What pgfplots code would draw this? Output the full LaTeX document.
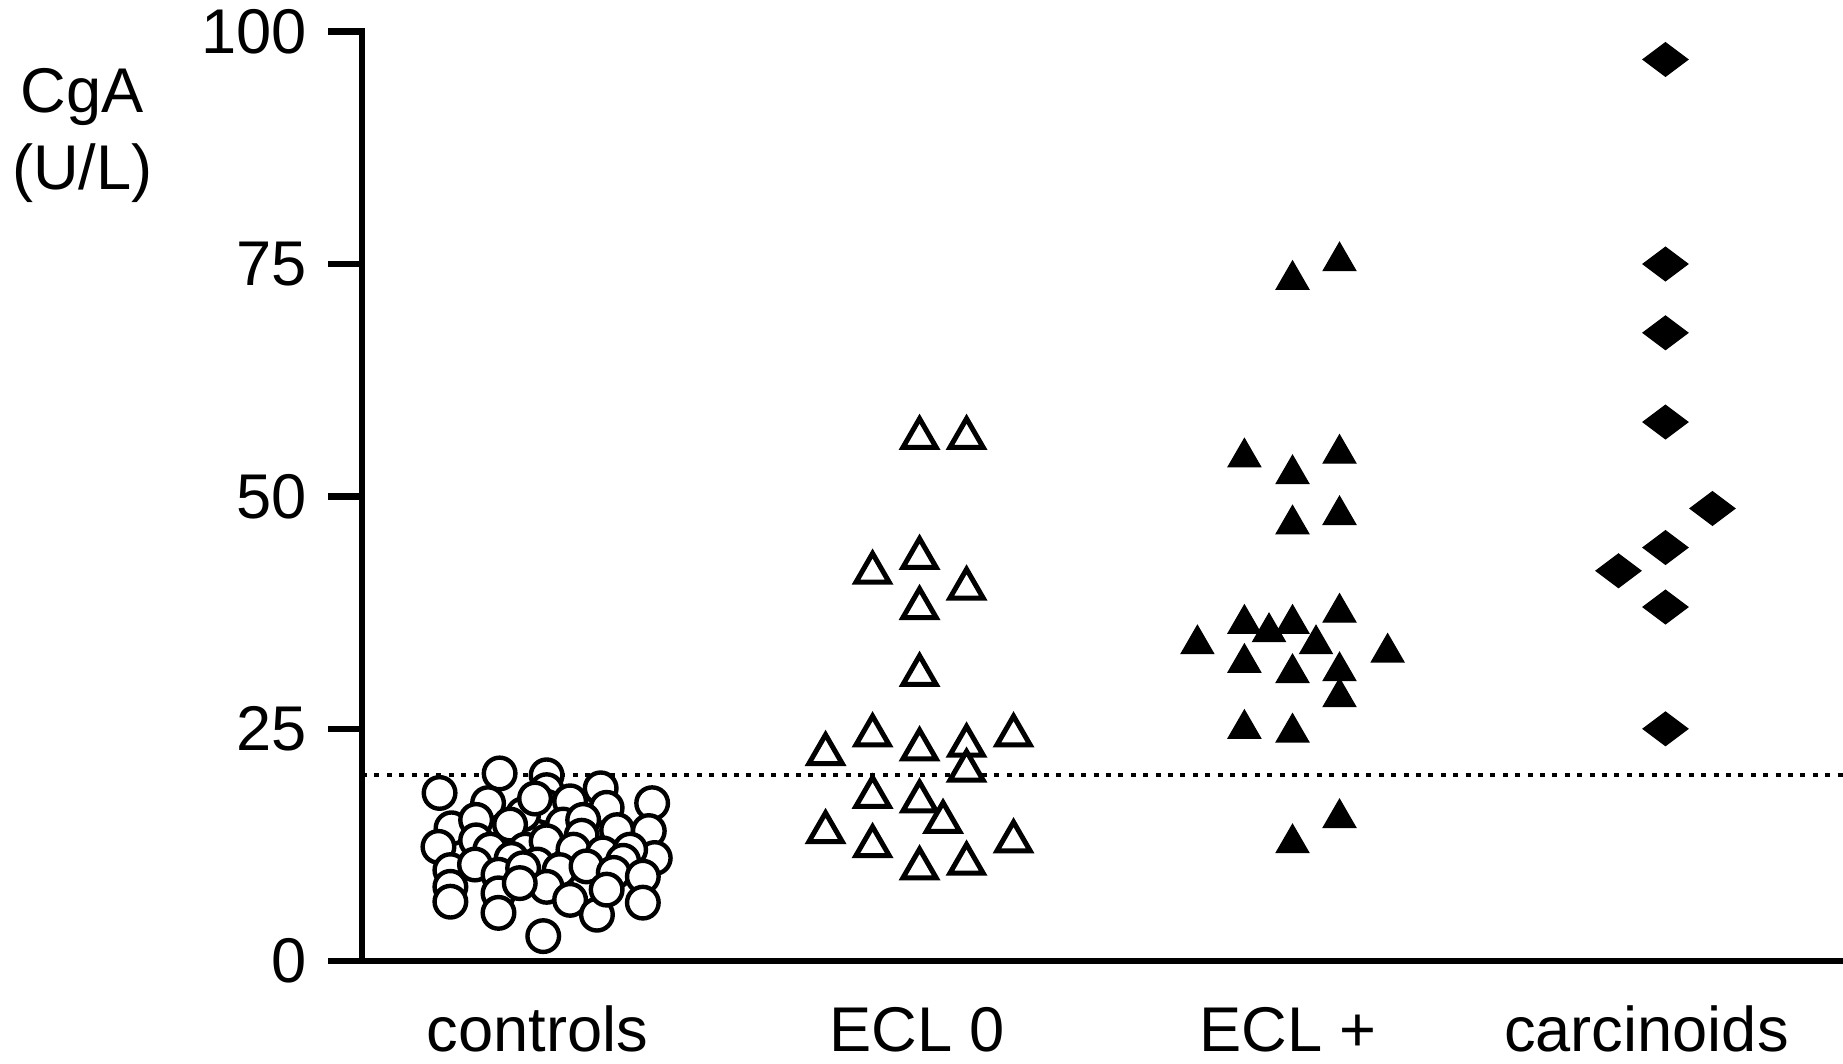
\documentclass[border=0pt]{standalone}
\usepackage{fontspec}
\setmainfont{Liberation Sans}
\usepackage{pgfplots}
\pgfplotsset{compat=1.18}
\pgfplotstableread{
x y
0.874 20.2
1.000 20.0
0.713 18.1
1.145 18.6
1.283 17.0
0.843 17.0
1.000 18.4
1.000 16.6
1.161 16.5
0.937 15.8
0.969 17.5
1.063 17.2
0.745 14.3
0.811 15.2
0.902 14.7
1.044 14.7
1.098 15.2
1.189 14.1
1.274 14.0
0.811 13.0
1.094 13.5
0.710 12.3
0.849 12.0
0.943 12.0
1.000 12.9
1.072 12.0
1.151 11.6
1.290 11.1
1.224 12.0
0.906 11.0
1.205 10.8
0.742 9.8
0.808 10.4
0.871 9.3
0.975 10.4
0.937 10.0
1.035 9.8
1.107 10.2
1.180 9.5
1.258 9.1
0.742 8.0
0.742 6.4
0.871 7.3
0.871 5.2
1.000 8.0
1.063 6.6
1.135 5.0
1.258 6.3
0.928 8.4
1.161 7.7
0.991 2.7
}\controls
\pgfplotstableread{
x y
2.000 56.3
2.126 56.3
1.874 41.8
2.000 43.4
2.126 40.1
2.000 38.0
2.000 30.8
1.748 22.3
1.874 24.3
2.000 22.8
2.126 23.2
2.252 24.3
2.126 20.5
1.874 17.7
2.000 17.2
2.063 15.0
1.748 13.9
1.874 12.4
2.252 12.9
2.000 10.0
2.126 10.5
}\eclzero
\pgfplotstableread{
x y
3.000 73.3
3.126 75.3
2.871 54.2
3.000 52.4
3.126 54.6
3.000 47.0
3.126 48.0
2.745 34.1
2.871 36.3
2.937 35.4
3.000 36.3
3.063 34.1
3.126 37.5
3.255 33.2
2.871 32.1
3.000 31.0
3.126 31.2
3.126 28.4
2.871 25.0
3.000 24.6
3.126 15.4
3.000 12.7
}\eclplus
\pgfplotstableread{
x y
4.000 97.0
4.000 75.0
4.000 67.6
4.000 58.0
4.126 48.7
4.000 44.5
3.874 42.0
4.000 38.1
4.000 25.0
}\carcinoids
\begin{document}
\begin{tikzpicture}
\begin{axis}[
  name=ax,
  scale only axis,
  width=370.25pt, height=232.4pt,
  xmin=0.505, xmax=4.476,
  ymin=0, ymax=100,
  axis x line*=bottom, axis y line*=left,
  axis line style={line width=1.6pt, black, line cap=rect},
  tick align=outside,
  major tick length=8.5pt,
  xtick={0.975,1.994,2.988,3.949},
  xticklabels={controls, ECL 0, ECL +, carcinoids},
  x tick style={draw=none},
  ytick={0,25,50,75,100},
  y tick style={line width=1.6pt, black},
  ticklabel style={font=\fontsize{15.8}{19}\selectfont},
  /pgf/number format/assume math mode=true,
  x tick label style={anchor=base, yshift=-14pt},
  y tick label style={xshift=-1.8pt},
  clip=false,
]
\addplot[only marks, mark=*, mark size=3.95pt, mark options={fill=white, draw=black, line width=1.1pt}] table[x=x,y=y] {\controls};
\addplot[only marks, mark=triangle*, mark size=4.8pt, mark options={fill=white, draw=black, line width=1.25pt}] table[x=x,y=y] {\eclzero};
\addplot[only marks, mark=triangle*, mark size=4.7pt, mark options={fill=black, draw=black, line width=0.3pt}] table[x=x,y=y] {\eclplus};
\addplot[only marks, mark=diamond*, mark size=5.6pt, mark options={fill=black, draw=black, line width=0.3pt, rotate=90}] table[x=x,y=y] {\carcinoids};
\addplot[line width=1pt, dash pattern=on 1.25pt off 1.85pt, black] coordinates {(0.505,20) (4.476,20)};
\node[anchor=base, font=\fontsize{15.8}{19}\selectfont] at ([xshift=-69.9pt,yshift=-20.2pt]rel axis cs:0,1) {CgA};
\node[anchor=base, font=\fontsize{15.8}{19}\selectfont] at ([xshift=-69.9pt,yshift=-39.5pt]rel axis cs:0,1) {(U/L)};
\end{axis}
\pgfresetboundingbox
\path ([xshift=-90.5pt,yshift=-25.5pt]ax.south west) rectangle ([yshift=7.9pt]ax.north east);
\end{tikzpicture}
\end{document}
